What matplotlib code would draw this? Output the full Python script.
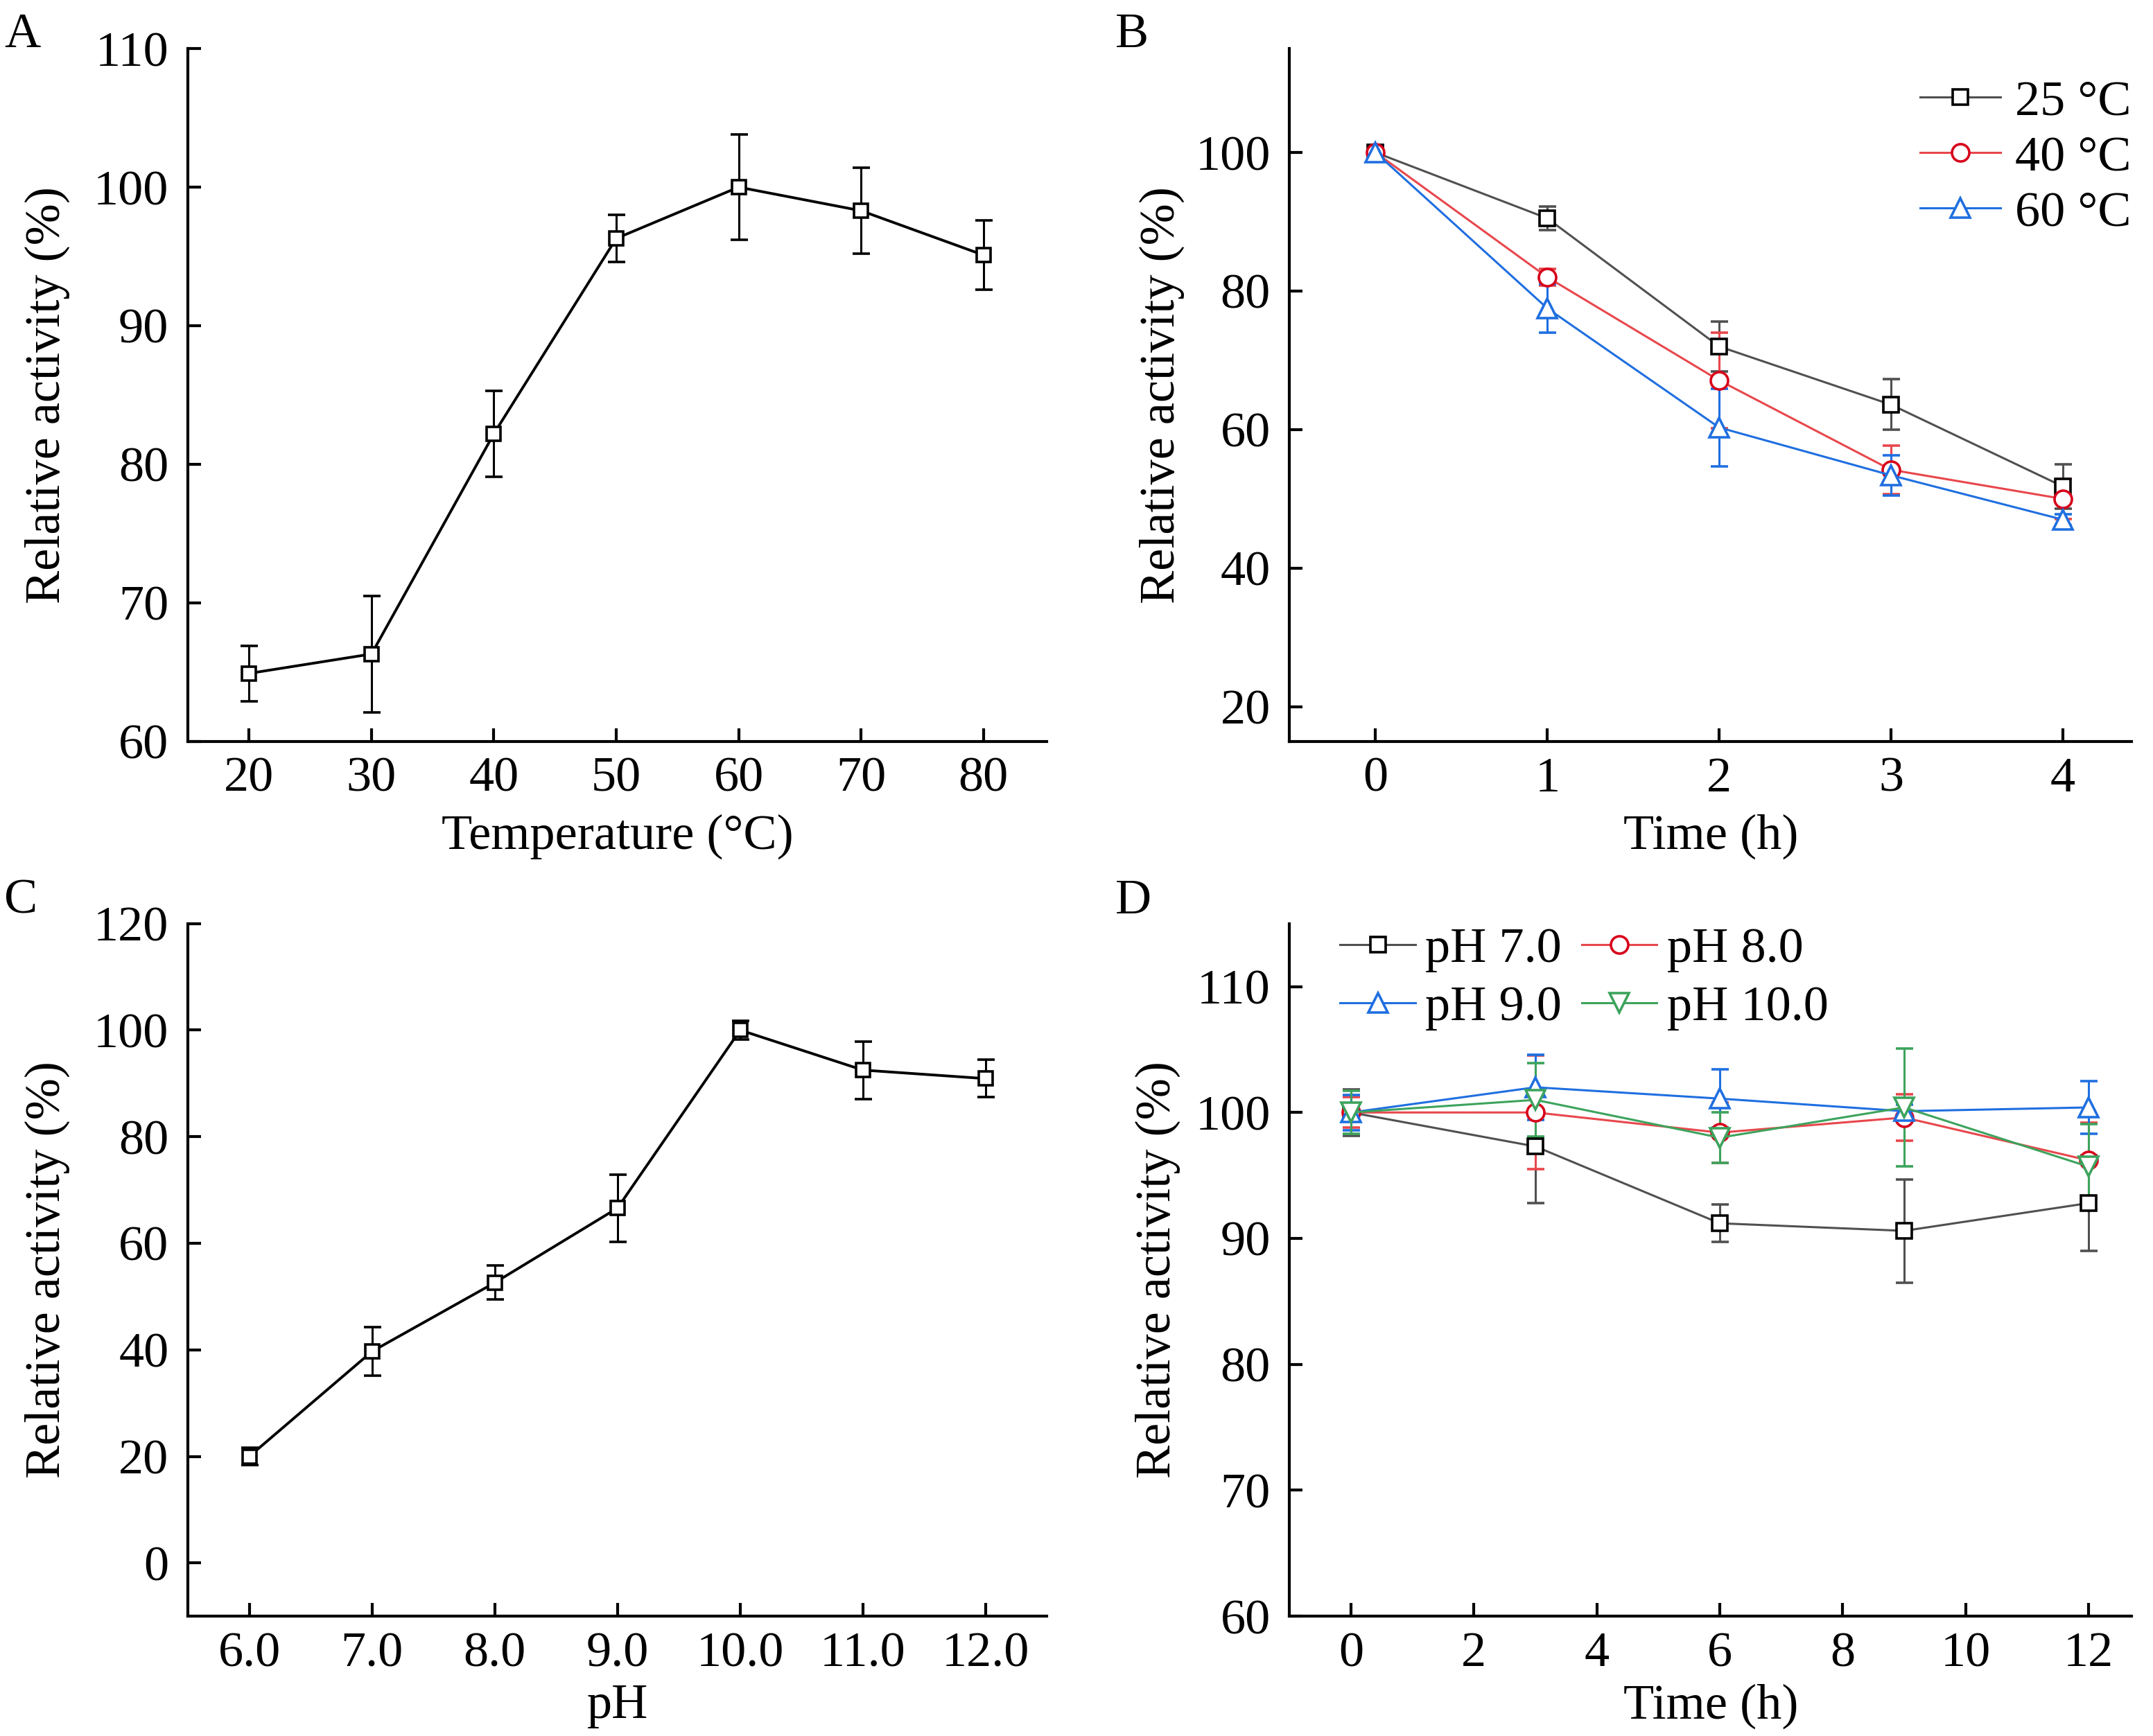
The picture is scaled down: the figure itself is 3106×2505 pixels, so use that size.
import matplotlib.pyplot as plt

plt.rcParams['font.family'] = ['Liberation Serif', 'DejaVu Serif']
plt.rcParams['font.size'] = 26

# Panel A: temperature optimum
temp = [20, 30, 40, 50, 60, 70, 80]
temp_act = [64.9, 66.3, 82.2, 96.3, 100.0, 98.3, 95.1]
temp_err = [2.0, 4.2, 3.1, 1.7, 3.8, 3.1, 2.5]

# Panel B: thermal stability
time_b = [0, 1, 2, 3, 4]
b25 = [100, 90.5, 72.0, 63.6, 51.8]
b25_err = [1.0, 1.7, 3.6, 3.65, 3.2]
b40 = [100, 82.0, 67.1, 54.2, 50.0]
b40_err = [1.0, 1.2, 6.9, 3.5, 2.9]
b60 = [100, 77.5, 60.3, 53.4, 47.0]
b60_err = [1.0, 3.5, 5.6, 2.9, 0.8]

# Panel C: pH optimum
ph = [6, 7, 8, 9, 10, 11, 12]
ph_labels = ["6.0", "7.0", "8.0", "9.0", "10.0", "11.0", "12.0"]
ph_act = [20.0, 39.7, 52.6, 66.6, 100.0, 92.5, 90.9]
ph_err = [1.6, 4.6, 3.2, 6.3, 1.8, 5.4, 3.5]

# Panel D: pH stability
time_d = [0, 3, 6, 9, 12]
d7 = [100, 97.3, 91.2, 90.6, 92.8]
d7_err = [1.85, 4.5, 1.5, 4.1, 3.8]
d8 = [100, 100.0, 98.4, 99.6, 96.2]
d8_err = [1.2, 4.5, 2.4, 1.85, 3.0]
d9 = [100, 102.0, 101.1, 100.1, 100.4]
d9_err = [1.4, 2.6, 2.3, 0.5, 2.1]
d10 = [100, 101.0, 98.0, 100.4, 95.7]
d10_err = [1.7, 2.9, 2.0, 4.7, 3.4]

GRAY, RED, BLUE, GREEN = "#505050", "#e8474c", "#1f6fe0", "#3da35d"
RED_EDGE = "#d7001a"

fig = plt.figure(figsize=(15.53, 12.525), dpi=200)
axA = fig.add_axes([0.0873, 0.573, 0.399, 0.399])
axB = fig.add_axes([0.599, 0.573, 0.391, 0.399])
axC = fig.add_axes([0.0873, 0.069, 0.399, 0.399])
axD = fig.add_axes([0.599, 0.069, 0.391, 0.399])


def style(ax):
    for s in ("top", "right"):
        ax.spines[s].set_visible(False)
    for s in ("left", "bottom"):
        ax.spines[s].set_linewidth(1.5)
    ax.tick_params(direction="in", length=7, width=1.5)
    ax.tick_params(axis="y", pad=10)
    ax.tick_params(axis="x", pad=8)


def series(ax, x, y, e, col, mk, ms, edge=None, lw=1.1, label=None):
    eb = ax.errorbar(x, y, yerr=e, color=col, lw=lw, marker=mk, ms=ms,
                     mfc="white", mec=edge or col, mew=1.3,
                     elinewidth=1.1, capsize=4.5, capthick=1.8, label=label)
    return eb[0]  # line+marker only, for the legend


# A
series(axA, temp, temp_act, temp_err, "black", "s", 7.5, lw=1.4)
axA.set_xlim(15, 85.2)
axA.set_ylim(60, 110)
axA.set_xticks(temp)
axA.set_yticks(range(60, 111, 10))
axA.set_xlabel("Temperature (°C)")
axA.set_ylabel("Relative activity (%)")

# B
l25 = series(axB, time_b, b25, b25_err, GRAY, "s", 8, edge="black")
l40 = series(axB, time_b, b40, b40_err, RED, "o", 9, edge=RED_EDGE)
l60 = series(axB, time_b, b60, b60_err, BLUE, "^", 10)
axB.set_xlim(-0.5, 4.4)
axB.set_ylim(15, 115)
axB.set_xticks(time_b)
axB.set_yticks(range(20, 101, 20))
axB.set_xlabel("Time (h)")
axB.set_ylabel("Relative activity (%)")
axB.legend([l25, l40, l60], ["25 °C", "40 °C", "60 °C"],
           loc="upper right", bbox_to_anchor=(1.0, 0.955), frameon=False,
           handlelength=1.6, handletextpad=0.3, labelspacing=0.2,
           borderaxespad=0, borderpad=0)

# C
series(axC, ph, ph_act, ph_err, "black", "s", 7.5, lw=1.4)
axC.set_xlim(5.5, 12.5)
axC.set_ylim(-10, 120)
axC.set_xticks(ph)
axC.set_xticklabels(ph_labels)
axC.set_yticks(range(0, 121, 20))
axC.set_xlabel("pH")
axC.set_ylabel("Relative activity (%)")

# D
h7 = series(axD, time_d, d7, d7_err, GRAY, "s", 8, edge="black")
h8 = series(axD, time_d, d8, d8_err, RED, "o", 9, edge=RED_EDGE)
h9 = series(axD, time_d, d9, d9_err, BLUE, "^", 10)
h10 = series(axD, time_d, d10, d10_err, GREEN, "v", 10)
axD.set_xlim(-1, 12.7)
axD.set_ylim(60, 115)
axD.set_xticks(range(0, 13, 2))
axD.set_yticks(range(60, 111, 10))
axD.set_xlabel("Time (h)")
axD.set_ylabel("Relative activity (%)")
axD.legend([h7, h9, h8, h10], ["pH 7.0", "pH 9.0", "pH 8.0", "pH 10.0"],
           ncol=2, loc="upper left", bbox_to_anchor=(0.06, 0.995), frameon=False,
           handlelength=1.5, handletextpad=0.2, labelspacing=0.25,
           columnspacing=0.4, borderaxespad=0, borderpad=0)

for ax in (axA, axB, axC, axD):
    style(ax)
    ax.yaxis.set_label_coords(-0.137, 0.5)
axB.yaxis.set_label_coords(-0.125, 0.5)
axD.yaxis.set_label_coords(-0.13, 0.5)
for ax in (axA, axB):
    ax.xaxis.set_label_coords(0.5, -0.105)
for ax in (axC, axD):
    ax.xaxis.set_label_coords(0.5, -0.097)

for lab, x, y in (("A", 0.002, 0.993), ("B", 0.518, 0.993),
                  ("C", 0.002, 0.494), ("D", 0.518, 0.494)):
    fig.text(x, y, lab, ha="left", va="top", fontsize=26)

fig.savefig("out.png", dpi=200)
